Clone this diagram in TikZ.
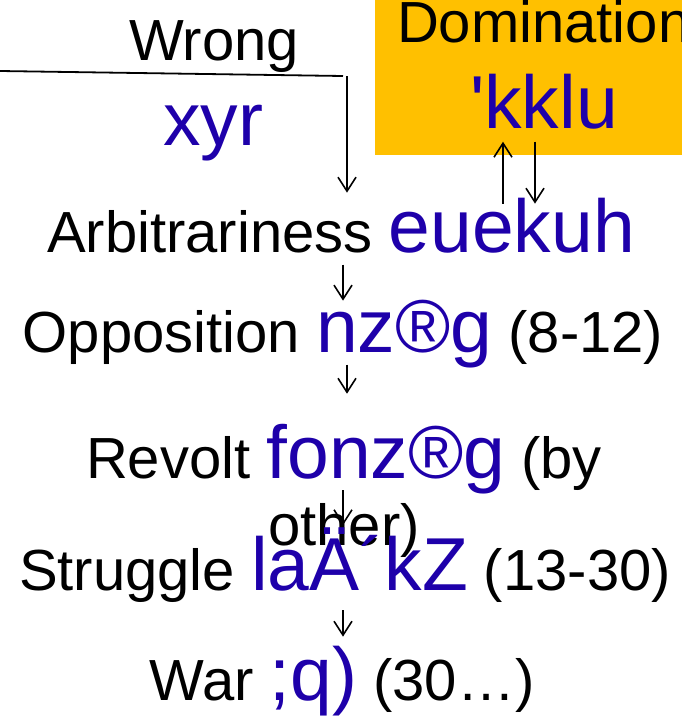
\documentclass[tikz,border=0pt]{standalone}
\usepackage{fontspec}
\setmainfont{Liberation Sans}
\newfontfamily\hinfont{Liberation Sans}[Ligatures=TeXOff]
\usetikzlibrary{arrows.meta, positioning}

\definecolor{hinblue}{RGB}{30,0,170}
\definecolor{domorange}{RGB}{255,192,0}
\newcommand{\hin}[1]{{\hinfont\color{hinblue}\fontsize{75}{80}\selectfont #1}}

\begin{document}
\begin{tikzpicture}[x=1pt, y=1pt, >={Straight Barb[length=14pt, width=18pt]},
    every node/.style={inner sep=0pt, outer sep=0pt},
    stage/.style={anchor=base, font=\fontsize{58}{67}\selectfont},
    flow/.style={->, line width=1.6pt}]
    \useasboundingbox (0,0) rectangle (682,-721);

    % domination box, runs off the page
    \node[fill=domorange, anchor=south west, minimum width=330pt, minimum height=180pt] (dombox) at (375,-155) {};
    \node[stage, anchor=base west] (dom) at (397,-42) {Domination};
    \node[stage] (kklu) at (544,-128) {\hin{'kklu}};

    \node[stage] (wrong) at (214,-60) {Wrong};
    \node[stage] (xyr) at (213,-145) {\hin{xyr}};

    \node[stage] (arb) at (341,-252) {Arbitrariness \hin{euekuh}};
    \node[stage] (opp) at (343,-352) {Opposition \hin{nz®g} (8-12)};
    \node[stage, align=center] (rev) at (344,-545) {Revolt \hin{fonz®g} (by\\other)};
    \node[stage] (str) at (345,-590) {Struggle \hin{laÄ´kZ} (13-30)};
    \node[stage] (war) at (342,-700) {War \hin{;q)} (30…)};

    % wrong line
    \coordinate (wl) at (0,-71);
    \coordinate (wc) at (343,-76);
    \coordinate (wd) at (347,-76);
    \draw[line width=1.8pt] (wl) -- (wc);
    \draw[flow, shorten >=5pt] (wd) -- (wd |- arb.north);

    \draw[flow] ([xshift=162pt, yshift=-6pt]arb.north) -- ([xshift=-41pt, yshift=-13pt]kklu.south);
    \draw[flow] ([xshift=-9pt, yshift=-13pt]kklu.south) -- ([xshift=194pt, yshift=-6pt]arb.north);

    \draw[flow] ([xshift=2pt, yshift=-12pt]arb.south) -- ([yshift=-1pt]opp.north);
    \draw[flow] ([xshift=4pt, yshift=3pt]opp.south) -- ([xshift=3pt, yshift=30pt]rev.north);
    \draw[flow] ([xshift=-1pt, yshift=55pt]rev.base) -- ([xshift=-2pt, yshift=2pt]str.north);
    \draw[flow] ([xshift=-2pt, yshift=-8pt]str.south) -- ([xshift=1pt, yshift=9pt]war.north);

\end{tikzpicture}
\end{document}
